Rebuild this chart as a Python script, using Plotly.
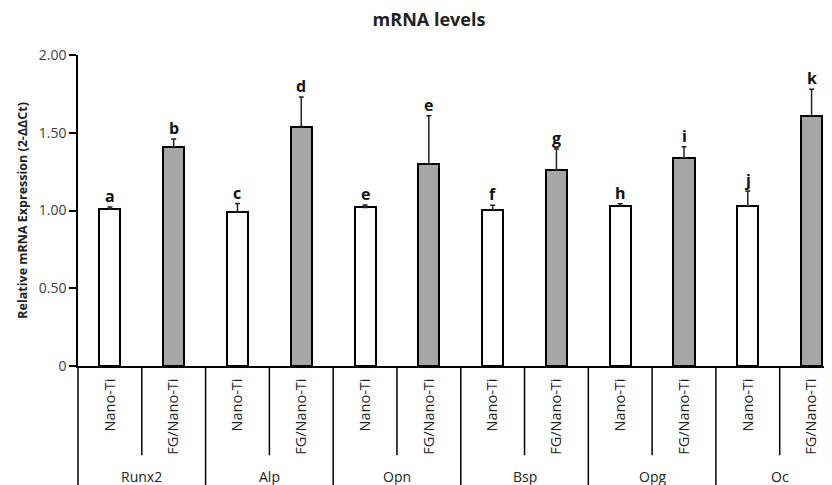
import plotly.graph_objects as go

genes = ["Runx2", "Alp", "Opn", "Bsp", "Opg", "Oc"]
groups = ["Nano-Ti", "FG/Nano-Ti"]
nano_vals = [1.01, 0.99, 1.02, 1.005, 1.03, 1.03]
nano_err = [0.012, 0.055, 0.015, 0.028, 0.013, 0.095]
fg_vals = [1.41, 1.54, 1.30, 1.26, 1.34, 1.61]
fg_err = [0.05, 0.19, 0.31, 0.135, 0.07, 0.17]
letters_nano = ["a", "c", "e", "f", "h", "j"]
letters_fg = ["b", "d", "e", "g", "i", "k"]
ytick_vals = [0, 0.5, 1.0, 1.5, 2.0]
ytick_text = ["0", "0.50", "1.00", "1.50", "2.00"]

FONT = "Open Sans"
n = len(genes)
x_nano = [2 * i for i in range(n)]
x_fg = [2 * i + 1 for i in range(n)]
x_range = [-0.5, 11.32]

fig = go.Figure()
fig.add_trace(go.Bar(
    x=x_nano, y=nano_vals, width=0.33,
    marker=dict(color="white", line=dict(color="black", width=2)),
    error_y=dict(type="data", array=nano_err, arrayminus=[0] * n, symmetric=False,
                 color="#222222", thickness=1.5, width=2.5),
    showlegend=False,
))
fig.add_trace(go.Bar(
    x=x_fg, y=fg_vals, width=0.33,
    marker=dict(color="#a6a6a6", line=dict(color="black", width=2)),
    error_y=dict(type="data", array=fg_err, arrayminus=[0] * n, symmetric=False,
                 color="#222222", thickness=1.5, width=2.5),
    showlegend=False,
))

annotations = []
for xs, vals, errs, letters in [(x_nano, nano_vals, nano_err, letters_nano),
                                (x_fg, fg_vals, fg_err, letters_fg)]:
    for x, v, e, l in zip(xs, vals, errs, letters):
        annotations.append(dict(x=x, y=v + e, xref="x", yref="y", text="<b>%s</b>" % l,
                                showarrow=False, yanchor="bottom", yshift=-2,
                                font=dict(family=FONT, size=16, color="#111111")))

def to_paper(xv):
    return (xv - x_range[0]) / (x_range[1] - x_range[0])

shapes = []
for i, g in enumerate(genes):
    shapes.append(dict(type="line", xref="paper", yref="paper",
                       x0=to_paper(2 * i - 0.5), x1=to_paper(2 * i - 0.5), y0=0, y1=-0.42,
                       line=dict(color="black", width=1.5)))
    shapes.append(dict(type="line", xref="paper", yref="paper",
                       x0=to_paper(2 * i + 0.5), x1=to_paper(2 * i + 0.5), y0=0, y1=-0.287,
                       line=dict(color="black", width=1.5)))
    annotations.append(dict(x=2 * i + 0.5, y=-0.354, xref="x", yref="paper", text=g,
                            showarrow=False, yanchor="middle",
                            font=dict(family=FONT, size=14, color="#222222")))

# y-axis title
annotations.append(dict(x=-0.074, y=0.5, xref="paper", yref="paper",
                        text="<b>Relative mRNA Expression (2-ΔΔCt)</b>", textangle=-90,
                        showarrow=False, xanchor="center", yanchor="middle",
                        font=dict(family=FONT, size=12.5, color="#222222")))

fig.update_layout(
    width=832, height=485,
    margin=dict(l=70, r=8, t=47, b=127, autoexpand=False),
    paper_bgcolor="white", plot_bgcolor="white",
    title=dict(text="<b>mRNA levels</b>", x=0.506, xanchor="center", xref="container",
               y=1 - 12 / 485, yref="container", yanchor="middle",
               font=dict(family=FONT, size=18, color="#222222")),
    xaxis=dict(range=x_range, tickmode="array", automargin=False,
               tickvals=x_nano + x_fg,
               ticktext=[groups[0]] * n + [groups[1]] * n,
               tickangle=-90, ticks="", showgrid=False, zeroline=False,
               showline=True, linecolor="black", linewidth=1.5,
               ticklabelstandoff=5,
               tickfont=dict(family=FONT, size=14.5, color="#222222")),
    yaxis=dict(range=[0, 2], tickmode="array", tickvals=ytick_vals, ticktext=ytick_text,
               automargin=False,
               ticks="outside", ticklen=7, tickwidth=1.5, tickcolor="black",
               showgrid=False, zeroline=False, showline=True, linecolor="black", linewidth=1.5,
               tickfont=dict(family=FONT, size=14, color="#404040")),
    shapes=shapes,
    annotations=annotations,
    bargap=0,
)

fig.write_html("out.html")
